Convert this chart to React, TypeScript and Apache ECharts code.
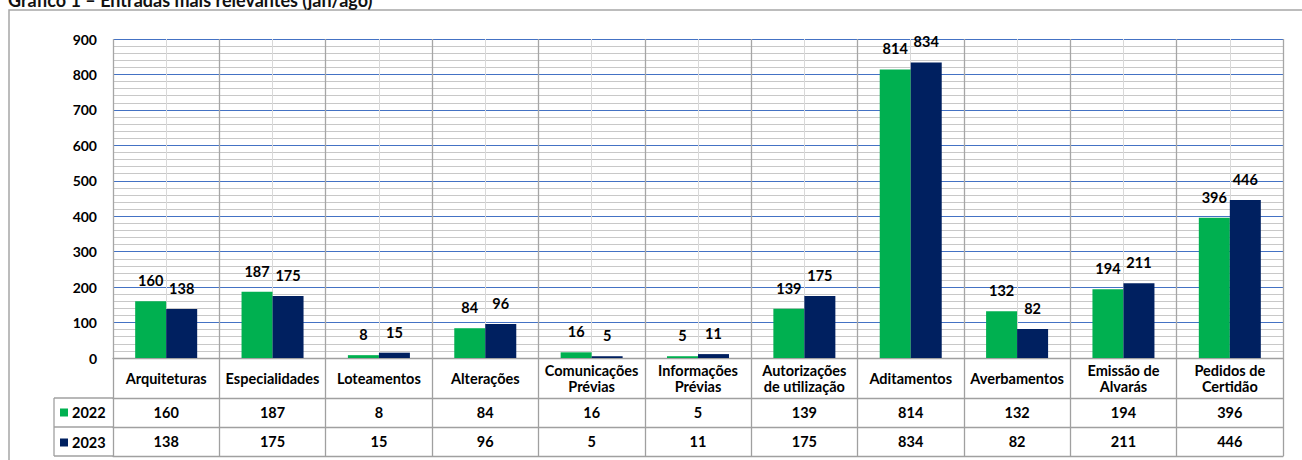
import React, { useEffect, useRef } from "react";
import * as echarts from "echarts";

const TITLE = "Gráfico 1 – Entradas mais relevantes (jan/ago)";
const categories = [
  "Arquiteturas",
  "Especialidades",
  "Loteamentos",
  "Alterações",
  "Comunicações\nPrévias",
  "Informações\nPrévias",
  "Autorizações\nde utilização",
  "Aditamentos",
  "Averbamentos",
  "Emissão de\nAlvarás",
  "Pedidos de\nCertidão",
];
const seriesNames = ["2022", "2023"];
const values2022 = [160, 187, 8, 84, 16, 5, 139, 814, 132, 194, 396];
const values2023 = [138, 175, 15, 96, 5, 11, 175, 834, 82, 211, 446];
const yTicks = { min: 0, max: 900, interval: 100 };

const FONT = "Lato";
const GREEN = "#00B050";
const NAVY = "#002060";
const TABLE_LINE = "#A0A0A0";

export default function App() {
  const ref = useRef<HTMLDivElement>(null);
  useEffect(() => {
    if (!ref.current) return;
    const chart = echarts.init(ref.current, undefined, { renderer: "svg" });
    const txt = { fontFamily: FONT, fontWeight: "bold" as const, color: "#000" };
    const tableAxis = (offset: number, formatter: any, tickLen: number, showLabel = true) => ({
      type: "category" as const,
      gridIndex: 0,
      position: "bottom" as const,
      offset,
      data: categories,
      axisLine: { show: true, lineStyle: { color: TABLE_LINE, width: 1.3 } },
      axisTick: {
        show: tickLen > 0,
        length: tickLen,
        inside: false,
        lineStyle: { color: TABLE_LINE, width: 1.3 },
      },
      axisLabel: {
        show: showLabel,
        interval: 0,
        formatter,
        margin: tickLen / 2,
        verticalAlign: "middle" as const,
        ...txt,
        fontSize: 14.5,
        lineHeight: 16,
      },
      splitLine: { show: false },
    });
    chart.setOption({
      animation: false,
      title: {
        text: TITLE,
        left: 8,
        top: 11,
        padding: 0,
        textStyle: { ...txt, fontSize: 18, color: "#111" },
      },
      legend: {
        data: seriesNames,
        orient: "vertical",
        left: 60,
        top: 425,
        icon: "rect",
        itemWidth: 8,
        itemHeight: 8,
        itemGap: 15,
        padding: 0,
        selectedMode: false,
        textStyle: { ...txt, fontSize: 14.5, padding: [0, 0, 0, -1] },
      },
      grid: { left: 113, right: 19, top: 59, bottom: 102, containLabel: false },
      xAxis: [
        {
          type: "value",
          min: 0,
          max: categories.length * 2,
          interval: 1,
          position: "top",
          axisLine: { show: false },
          axisTick: { show: false },
          axisLabel: { show: false },
          splitLine: { show: true, lineStyle: { color: "#D9D9D9", width: 1 } },
        },
        {
          ...tableAxis(0, (v: string) => v, 40),
          splitLine: { show: true, lineStyle: { color: "#A6A6A6", width: 1.3 } },
        },
        tableAxis(40, (_v: string, i: number) => String(values2022[i]), 29),
        tableAxis(69, (_v: string, i: number) => String(values2023[i]), 29),
        tableAxis(98, () => "", 0, false),
      ],
      yAxis: {
        type: "value",
        min: yTicks.min,
        max: yTicks.max,
        interval: yTicks.interval,
        axisLine: { show: false },
        axisTick: { show: false },
        axisLabel: { ...txt, fontSize: 14, margin: 16 },
        splitLine: { show: true, lineStyle: { color: "#4472C4", width: 1.2 } },
        minorTick: { show: false, splitNumber: 5 },
        minorSplitLine: { show: true, lineStyle: { color: "#C8C8C8", width: 1.2 } },
      },
      series: [
        {
          name: seriesNames[0],
          type: "bar",
          xAxisIndex: 1,
          data: values2022,
          barWidth: 31,
          barGap: "0%",
          itemStyle: { color: GREEN },
          label: { show: true, position: "top", distance: 13, ...txt, fontSize: 14.5 },
        },
        {
          name: seriesNames[1],
          type: "bar",
          xAxisIndex: 1,
          data: values2023,
          barWidth: 31,
          barGap: "0%",
          itemStyle: { color: NAVY },
          label: { show: true, position: "top", distance: 13, ...txt, fontSize: 14.5 },
        },
      ],
      graphic: [
        {
          type: "rect",
          silent: true,
          shape: { x: 9, y: 30, width: 1400, height: 600 },
          style: { fill: "none", stroke: "#A6A6A6", lineWidth: 1.5 },
        },
        { type: "line", shape: { x1: 54, y1: 418, x2: 113, y2: 418 }, style: { stroke: TABLE_LINE, lineWidth: 1.3 } },
        { type: "line", shape: { x1: 54, y1: 447, x2: 113, y2: 447 }, style: { stroke: TABLE_LINE, lineWidth: 1.3 } },
        { type: "line", shape: { x1: 54, y1: 476, x2: 113, y2: 476 }, style: { stroke: TABLE_LINE, lineWidth: 1.3 } },
        { type: "line", shape: { x1: 54, y1: 418, x2: 54, y2: 476 }, style: { stroke: TABLE_LINE, lineWidth: 1.3 } },
      ],
    });
    return () => chart.dispose();
  }, []);
  return (
    <div
      ref={ref}
      style={{ position: "absolute", left: 0, top: -20, width: 1302, height: 480, background: "#fff" }}
    />
  );
}
